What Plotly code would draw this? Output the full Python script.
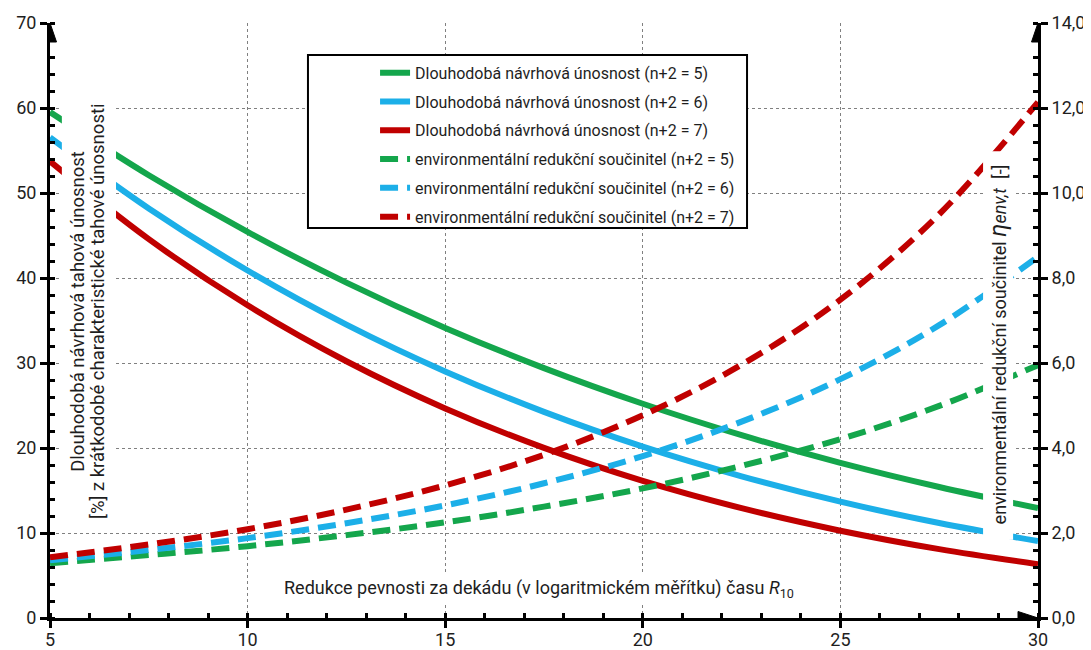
import plotly.graph_objects as go

# ---- data ----
r10 = [5, 7.5, 10, 12.5, 15, 17.5, 20, 22.5, 25, 27.5, 30]

# long-term design tensile capacity [% of short-term characteristic capacity]
cap_n5 = [59.52, 52.09, 45.42, 39.46, 34.13, 29.40, 25.21, 21.51, 18.25, 15.41, 12.93]
cap_n6 = [56.54, 48.19, 40.88, 34.52, 29.01, 24.25, 20.16, 16.67, 13.69, 11.17, 9.05]
cap_n7 = [53.72, 44.57, 36.79, 30.21, 24.66, 20.01, 16.13, 12.92, 10.27, 8.10, 6.33]

# environmental reduction factor eta_env,t [-]
env_n5 = [1.29, 1.48, 1.69, 1.95, 2.25, 2.62, 3.05, 3.58, 4.21, 4.99, 5.95]
env_n6 = [1.36, 1.60, 1.88, 2.23, 2.65, 3.17, 3.81, 4.62, 5.62, 6.89, 8.50]
env_n7 = [1.43, 1.73, 2.09, 2.55, 3.12, 3.84, 4.77, 5.96, 7.49, 9.50, 12.14]

cap_names = ["Dlouhodobá návrhová únosnost (n+2 = 5)",
             "Dlouhodobá návrhová únosnost (n+2 = 6)",
             "Dlouhodobá návrhová únosnost (n+2 = 7)"]
env_names = ["environmentální redukční součinitel (n+2 = 5)",
             "environmentální redukční součinitel (n+2 = 6)",
             "environmentální redukční součinitel (n+2 = 7)"]

x_ticks = [5, 10, 15, 20, 25, 30]
y_ticks = [0, 10, 20, 30, 40, 50, 60, 70]
y2_ticks = [0, 2, 4, 6, 8, 10, 12, 14]
y2_ticktext = ["0,0", "2,0", "4,0", "6,0", "8,0", "10,0", "12,0", "14,0"]

colors = ["#14A64C", "#1CAFE8", "#C00000"]
FONT = "Roboto, 'Open Sans', sans-serif"
TXT = "#1e1e1e"

fig = go.Figure()
for i, (vals, name) in enumerate(zip([cap_n5, cap_n6, cap_n7], cap_names)):
    fig.add_trace(go.Scatter(x=r10, y=vals, name=name, mode="lines",
                             line=dict(color=colors[i], width=6, shape="spline"),
                             legendgroup=f"c{i}", yaxis="y"))
for i, (vals, name) in enumerate(zip([env_n5, env_n6, env_n7], env_names)):
    fig.add_trace(go.Scatter(x=r10, y=vals, name=name, mode="lines",
                             line=dict(color=colors[i], width=6, shape="spline", dash="18px,9px"),
                             legendgroup=f"e{i}", yaxis="y2"))

axis_common = dict(showline=True, linewidth=3, linecolor="black",
                   ticks="outside", ticklen=7, tickwidth=3, tickcolor="black",
                   zeroline=False, tickfont=dict(family=FONT, size=18, color=TXT))

fig.update_layout(
    width=1083, height=642, template="none",
    margin=dict(l=42, r=53, t=15, b=32, autoexpand=False),
    paper_bgcolor="white", plot_bgcolor="white",
    font=dict(family=FONT, size=18, color=TXT),
    showlegend=True,
    legend=dict(x=0.329, y=0.945, xanchor="left", yanchor="top",
                bgcolor="rgba(0,0,0,0)", borderwidth=0,
                font=dict(family=FONT, size=16, color=TXT),
                tracegroupgap=5, itemwidth=30),
    xaxis=dict(range=[5, 30], tickvals=x_ticks, ticklabelstandoff=-4,
               showgrid=True, gridcolor="#808080", griddash="dot", gridwidth=1,
               minor=dict(dtick=1, tick0=5, ticks="inside", ticklen=5, tickwidth=2.5,
                          tickcolor="black", showgrid=False),
               **axis_common),
    yaxis=dict(range=[0, 70], tickvals=y_ticks,
               showgrid=True, gridcolor="#808080", griddash="dot", gridwidth=1,
               minor=dict(dtick=2, tick0=0, ticks="inside", ticklen=5, tickwidth=2.5,
                          tickcolor="black", showgrid=False),
               **axis_common),
    yaxis2=dict(range=[0, 14], overlaying="y", side="right", anchor="x",
                tickvals=y2_ticks, ticktext=y2_ticktext, showgrid=False,
                minor=dict(dtick=0.4, tick0=0, ticks="inside", ticklen=5, tickwidth=2.5,
                           tickcolor="black", showgrid=False),
                **axis_common),
)

# white boxes behind axis titles / legend frame
fig.add_shape(type="rect", xref="x", yref="y", x0=5.30, x1=6.67, y0=10.7, y1=60.9,
              fillcolor="white", line=dict(width=0), layer="above")
fig.add_shape(type="rect", xref="x", yref="y", x0=28.61, x1=29.37, y0=9.2, y1=54.9,
              fillcolor="white", line=dict(width=0), layer="above")
fig.add_shape(type="rect", xref="paper", yref="paper", x0=0.2611, x1=0.7055, y0=0.6555, y1=0.9462,
              fillcolor="white", line=dict(color="black", width=2), layer="above")

# axis arrowheads (pixel-sized paths anchored at the axis ends)
arrow_up = "M-6.5,-19 L0,0 L6.5,-19 Z"
arrow_right = "M-20,-6.5 L0,0 L-20,6.5 Z"
for (xa, ya, p) in [(5, 70, arrow_up), (30, 70, arrow_up), (30, 0, arrow_right)]:
    fig.add_shape(type="path", xref="x", yref="y", xsizemode="pixel", ysizemode="pixel",
                  xanchor=xa, yanchor=ya, path=p, fillcolor="black",
                  line=dict(color="black", width=1), layer="above")

# axis titles
fig.add_annotation(x=5.70, y=36.1, xref="x", yref="y", textangle=-90, showarrow=False,
                   text="Dlouhodobá návrhová tahová únosnost",
                   font=dict(family=FONT, size=18.5, color=TXT), xanchor="center", yanchor="middle")
fig.add_annotation(x=6.21, y=36.1, xref="x", yref="y", textangle=-90, showarrow=False,
                   text="[%] z krátkodobé charakteristické tahové únosnosti",
                   font=dict(family=FONT, size=18.5, color=TXT), xanchor="center", yanchor="middle")
fig.add_annotation(x=28.99, y=32.2, xref="x", yref="y", textangle=-90, showarrow=False,
                   text="environmentální redukční součinitel "
                        "<i><span style='font-size:24px'>η</span>env,t</i>\u00a0\u00a0[-]",
                   font=dict(family=FONT, size=18, color=TXT), xanchor="center", yanchor="middle")
fig.add_annotation(x=17.37, y=3.4, xref="x", yref="y", showarrow=False,
                   text="Redukce pevnosti za dekádu (v logaritmickém měřítku) času <i>R</i><sub>10</sub>",
                   font=dict(family=FONT, size=18, color=TXT), bgcolor="white", borderpad=2,
                   xanchor="center", yanchor="middle")

fig.write_html("out.html")
